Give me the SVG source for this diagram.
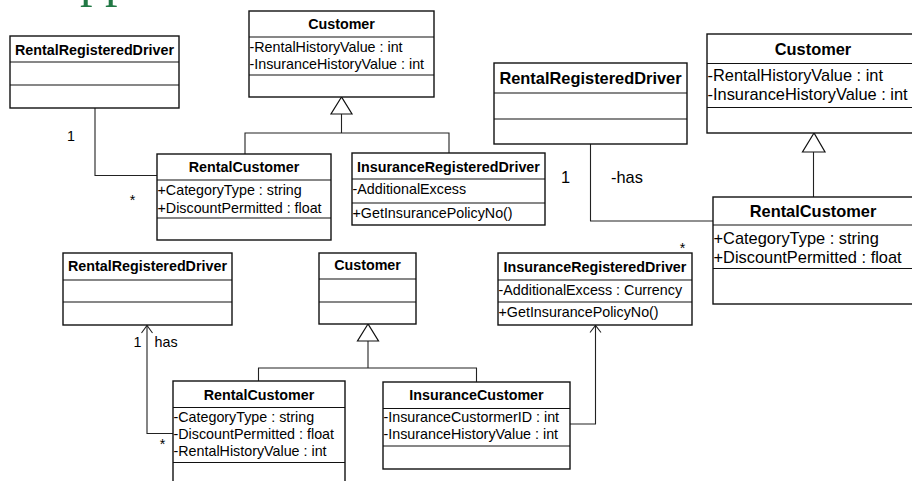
<svg xmlns="http://www.w3.org/2000/svg" width="912" height="481" viewBox="0 0 912 481">
<style>
.box{fill:#fff;stroke:#111;stroke-width:1.4}
.dv{stroke:#111;stroke-width:1.2}
.t{font-family:"Liberation Sans",Arial,sans-serif;font-weight:bold;font-size:14.3px;text-anchor:middle;fill:#000}
.a{font-family:"Liberation Sans",Arial,sans-serif;font-size:14.3px;fill:#000}
.T{font-family:"Liberation Sans",Arial,sans-serif;font-weight:bold;font-size:16.4px;text-anchor:middle;fill:#000}
.A{font-family:"Liberation Sans",Arial,sans-serif;font-size:16.4px;fill:#000}
.c{fill:none;stroke:#222;stroke-width:1.1}
.tri{fill:#fff;stroke:#111;stroke-width:1.2}
.m{text-anchor:middle}
</style>
<rect width="912" height="481" fill="#fff"/>
<text x="80" y="-4.3" style="font-family:'Liberation Serif',serif;font-size:50px;fill:#217844">pp</text>

<g id="connectors">
  <polyline class="c" points="95,108 95,175.5 157,175.5"/>
  <text class="a" x="67" y="141">1</text>
  <text class="a m" x="132.5" y="205">*</text>
  <polygon class="tri" points="341.5,97 331,114 352,114"/>
  <polyline class="c" points="341.5,114 341.5,133"/>
  <polyline class="c" points="245,154 245,133 449,133 449,153"/>

  <polyline class="c" points="590.5,144 590.5,221 713,221"/>
  <text class="A" x="561" y="183">1</text>
  <text class="A" x="611" y="183">-has</text>
  <text class="a m" x="682.5" y="253">*</text>
  <polygon class="tri" points="814,133 802.5,152 825,152"/>
  <polyline class="c" points="813.5,152 813.5,197"/>

  <polyline class="c" points="147,325.5 147,433.5 173,433.5"/>
  <path class="c" d="M141.5,333 L147,325.5 L152.5,333"/>
  <text class="a" x="133.5" y="347">1</text>
  <text class="a" x="154.5" y="347">has</text>
  <text class="a m" x="162.5" y="449">*</text>
  <polygon class="tri" points="368,324 357.5,341 378.5,341"/>
  <polyline class="c" points="368,341 368,368"/>
  <polyline class="c" points="258.5,381 258.5,368 476.5,368 476.5,382"/>

  <polyline class="c" points="570,424 595.5,424 595.5,325.5"/>
  <path class="c" d="M590,332.5 L595.5,325.5 L601,332.5"/>
</g>

<g id="rrd1">
  <rect class="box" x="10" y="36" width="169" height="72"/>
  <line class="dv" x1="10" y1="62" x2="179" y2="62"/>
  <line class="dv" x1="10" y1="85" x2="179" y2="85"/>
  <text class="t" x="94.5" y="54.5">RentalRegisteredDriver</text>
</g>
<g id="customer1">
  <rect class="box" x="249" y="11" width="185" height="86"/>
  <line class="dv" x1="249" y1="37" x2="434" y2="37"/>
  <line class="dv" x1="249" y1="75" x2="434" y2="75"/>
  <text class="t" x="341.5" y="28.5">Customer</text>
  <text class="a" x="249.5" y="52">-RentalHistoryValue : int</text>
  <text class="a" x="249.5" y="68.5">-InsuranceHistoryValue : int</text>
</g>
<g id="rentalcustomer1">
  <rect class="box" x="157" y="154" width="174" height="86"/>
  <line class="dv" x1="157" y1="180" x2="331" y2="180"/>
  <line class="dv" x1="157" y1="218" x2="331" y2="218"/>
  <text class="t" x="244" y="171.5">RentalCustomer</text>
  <text class="a" x="157.5" y="194.5">+CategoryType : string</text>
  <text class="a" x="157.5" y="212.5">+DiscountPermitted : float</text>
</g>
<g id="ird1">
  <rect class="box" x="352" y="153" width="193" height="72"/>
  <line class="dv" x1="352" y1="179" x2="545" y2="179"/>
  <line class="dv" x1="352" y1="203" x2="545" y2="203"/>
  <text class="t" x="448.5" y="172">InsuranceRegisteredDriver</text>
  <text class="a" x="352.5" y="194">-AdditionalExcess</text>
  <text class="a" x="352.5" y="218">+GetInsurancePolicyNo()</text>
</g>

<g id="rrd2">
  <rect class="box" x="494" y="63" width="193" height="81"/>
  <line class="dv" x1="494" y1="93" x2="687" y2="93"/>
  <line class="dv" x1="494" y1="119" x2="687" y2="119"/>
  <text class="T" x="590.5" y="83.5">RentalRegisteredDriver</text>
</g>
<g id="customer2">
  <rect class="box" x="707" y="34" width="212" height="99"/>
  <line class="dv" x1="707" y1="63.5" x2="919" y2="63.5"/>
  <line class="dv" x1="707" y1="107.5" x2="919" y2="107.5"/>
  <text class="T" x="813" y="54.5">Customer</text>
  <text class="A" x="707.5" y="81">-RentalHistoryValue : int</text>
  <text class="A" x="707.5" y="100">-InsuranceHistoryValue : int</text>
</g>
<g id="rentalcustomer2">
  <rect class="box" x="713" y="197" width="200" height="107"/>
  <line class="dv" x1="713" y1="225" x2="913" y2="225"/>
  <line class="dv" x1="713" y1="268.5" x2="913" y2="268.5"/>
  <text class="T" x="813" y="217">RentalCustomer</text>
  <text class="A" x="713.5" y="243.5">+CategoryType : string</text>
  <text class="A" x="713.5" y="263">+DiscountPermitted : float</text>
</g>

<g id="rrd3">
  <rect class="box" x="63" y="253" width="169" height="72"/>
  <line class="dv" x1="63" y1="280" x2="232" y2="280"/>
  <line class="dv" x1="63" y1="302" x2="232" y2="302"/>
  <text class="t" x="147.5" y="271">RentalRegisteredDriver</text>
</g>
<g id="customer3">
  <rect class="box" x="319" y="253" width="97" height="71"/>
  <line class="dv" x1="319" y1="279" x2="416" y2="279"/>
  <line class="dv" x1="319" y1="302" x2="416" y2="302"/>
  <text class="t" x="367.5" y="270">Customer</text>
</g>
<g id="rentalcustomer3">
  <rect class="box" x="173" y="381" width="172" height="115"/>
  <line class="dv" x1="173" y1="407.5" x2="345" y2="407.5"/>
  <line class="dv" x1="173" y1="462.5" x2="345" y2="462.5"/>
  <text class="t" x="259" y="399.5">RentalCustomer</text>
  <text class="a" x="173.5" y="422">-CategoryType : string</text>
  <text class="a" x="173.5" y="438.5">-DiscountPermitted : float</text>
  <text class="a" x="173.5" y="455.5">-RentalHistoryValue : int</text>
</g>
<g id="insurancecustomer">
  <rect class="box" x="383" y="382" width="187" height="87"/>
  <line class="dv" x1="383" y1="408.5" x2="570" y2="408.5"/>
  <line class="dv" x1="383" y1="446" x2="570" y2="446"/>
  <text class="t" x="476.5" y="400">InsuranceCustomer</text>
  <text class="a" x="383.5" y="422">-InsuranceCustormerID : int</text>
  <text class="a" x="383.5" y="438.5">-InsuranceHistoryValue : int</text>
</g>
<g id="ird2">
  <rect class="box" x="498" y="253" width="194" height="72"/>
  <line class="dv" x1="498" y1="280" x2="692" y2="280"/>
  <line class="dv" x1="498" y1="302" x2="692" y2="302"/>
  <text class="t" x="595" y="272">InsuranceRegisteredDriver</text>
  <text class="a" x="498.5" y="294.5">-AdditionalExcess : Currency</text>
  <text class="a" x="498.5" y="317">+GetInsurancePolicyNo()</text>
</g>
</svg>
